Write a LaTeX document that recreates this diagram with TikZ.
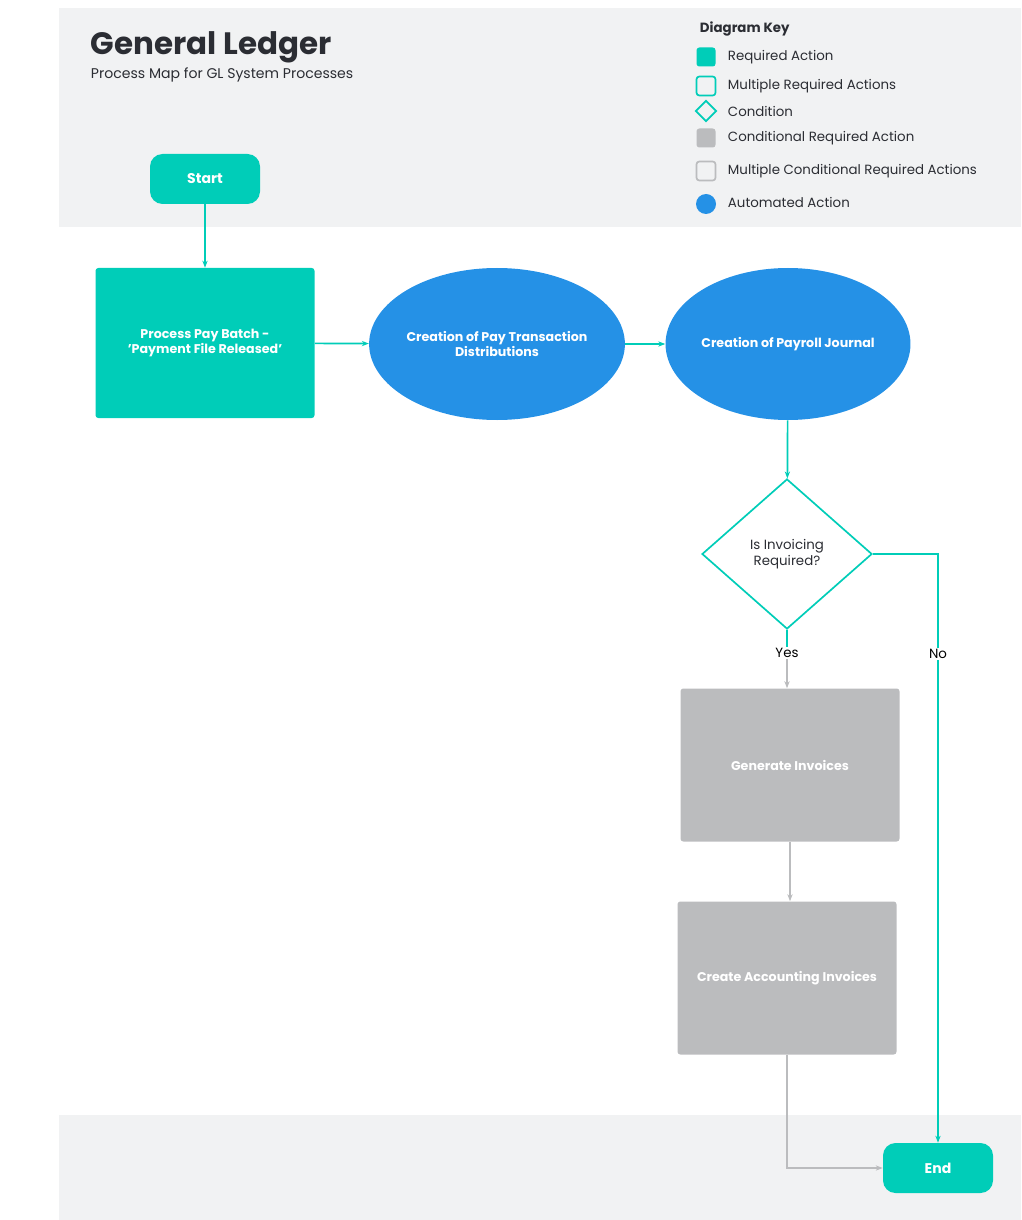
\documentclass[tikz,border=0pt]{standalone}
\usepackage{fontspec}
\setmainfont{Poppins}
\usetikzlibrary{arrows.meta, positioning, shapes.geometric}
\definecolor{teal}{HTML}{00CDB8}
\definecolor{autoblue}{HTML}{2591E6}
\definecolor{condgray}{HTML}{BBBCBE}
\definecolor{bandgray}{HTML}{F1F2F3}
\definecolor{ink}{HTML}{2B2D33}
\tikzset{
	act/.style={rectangle, rounded corners=2pt, fill=teal, text=white, font=\bfseries\fontsize{9}{11}\selectfont, align=center, inner sep=0pt},
	auto/.style={ellipse, fill=autoblue, text=white, font=\bfseries\fontsize{9}{11}\selectfont, align=center, inner sep=0pt},
	cond/.style={rectangle, rounded corners=2pt, fill=condgray, text=white, font=\bfseries\fontsize{9}{11}\selectfont, align=center, inner sep=0pt, minimum width=219*0.025cm, minimum height=153*0.025cm},
	term/.style={rectangle, rounded corners=12.5*0.025cm, fill=teal, text=white, font=\bfseries\fontsize{10}{12}\selectfont, minimum width=110*0.025cm, minimum height=50*0.025cm, inner sep=0pt},
	flow/.style={draw=teal, line width=1.2pt, -{Stealth[length=5pt]}},
	gflow/.style={draw=condgray, line width=1.2pt, -{Stealth[length=5pt]}},
	keytxt/.style={anchor=west, font=\fontsize{9.5}{11}\selectfont, text=ink},
	keybox/.style={rectangle, rounded corners=2pt, minimum size=19*0.025cm, inner sep=0pt, line width=1.2pt},
}
\begin{document}
\begin{tikzpicture}[x=0.025cm, y=-0.025cm]
		\useasboundingbox (0,0) rectangle (1021,1220);
		\fill[bandgray] (59,8) rectangle (1021,227);
		\fill[bandgray] (59,1115) rectangle (1021,1220);
		
		% title and key
		\node[anchor=west, font=\bfseries\fontsize{22}{24}\selectfont, text=ink] (title) at (86,47) {General Ledger};
		\node[anchor=west, font=\fontsize{10}{12}\selectfont, text=ink] (sub) at (86,75) {Process Map for GL System Processes};
		\node[anchor=west, font=\bfseries\fontsize{9.5}{11}\selectfont, text=ink] (key) at (695,29) {Diagram Key};
		\node[keybox, fill=teal] (k1) at (706,57) {};
		\node[keybox, draw=teal] (k2) at (706,86) {};
		\node[diamond, draw=teal, line width=1.2pt, minimum size=21*0.025cm, inner sep=0pt] (k3) at (706,111) {};
		\node[keybox, fill=condgray] (k4) at (706,138) {};
		\node[keybox, draw=condgray] (k5) at (706,171) {};
		\node[circle, fill=autoblue, minimum size=20*0.025cm, inner sep=0pt] (k6) at (706,204) {};
		\node[keytxt] at (723,57) {Required Action};
		\node[keytxt] at (723,86) {Multiple Required Actions};
		\node[keytxt] at (723,111) {Condition};
		\node[keytxt] at (723,138) {Conditional Required Action};
		\node[keytxt] at (723,171) {Multiple Conditional Required Actions};
		\node[keytxt] at (723,202) {Automated Action};
		
		% flow nodes
		\node[term] (start) at (205,179) {Start};
		\node[act, minimum width=219*0.025cm, minimum height=150*0.025cm] (pay) at (205,343) {Process Pay Batch -\\'Payment File Released'};
		\node[auto, minimum width=220*0.025cm, minimum height=152*0.025cm] (dist) at (497,344) {Creation of Pay Transaction\\Distributions};
		\node[auto, minimum width=220*0.025cm, minimum height=152*0.025cm] (jrnl) at (788,344) {Creation of Payroll Journal};
		\node[diamond, draw=teal, line width=1.2pt, fill=white, minimum width=170*0.025cm, minimum height=150*0.025cm, inner sep=0pt, align=center, font=\fontsize{9.5}{11}\selectfont, text=ink] (inv) at (787,554) {Is Invoicing\\Required?};
		\node[cond] (gen) at (790,765) {Generate Invoices};
		\node[cond] (acc) at (787,978) {Create Accounting Invoices};
		\node[term] (end) at (938,1168) {End};
		\node[font=\fontsize{9.5}{11}\selectfont, inner sep=1pt] (yes) at (787,653) {Yes};
		\coordinate (nobend) at (938,554);
		\coordinate (accbend) at (787,1168);
		
		% connectors
		\draw[flow] (start) -- (pay);
		\draw[flow] (pay) -- (dist);
		\draw[flow] (dist) -- (jrnl);
		\draw[flow] (jrnl) -- (inv);
		\draw[flow] (inv.east) -- (nobend) -- node[pos=0.17, fill=white, inner sep=1pt, font=\fontsize{9.5}{11}\selectfont] {No} (end);
		\draw[draw=teal, line width=1.2pt] (inv.south) -- (yes);
		\draw[gflow] (yes) -- (yes |- gen.north);
		\draw[gflow] (gen) -- (gen |- acc.north);
		\draw[gflow] (acc.south) -- (accbend) -- (end.west);
	\end{tikzpicture}
\end{document}
